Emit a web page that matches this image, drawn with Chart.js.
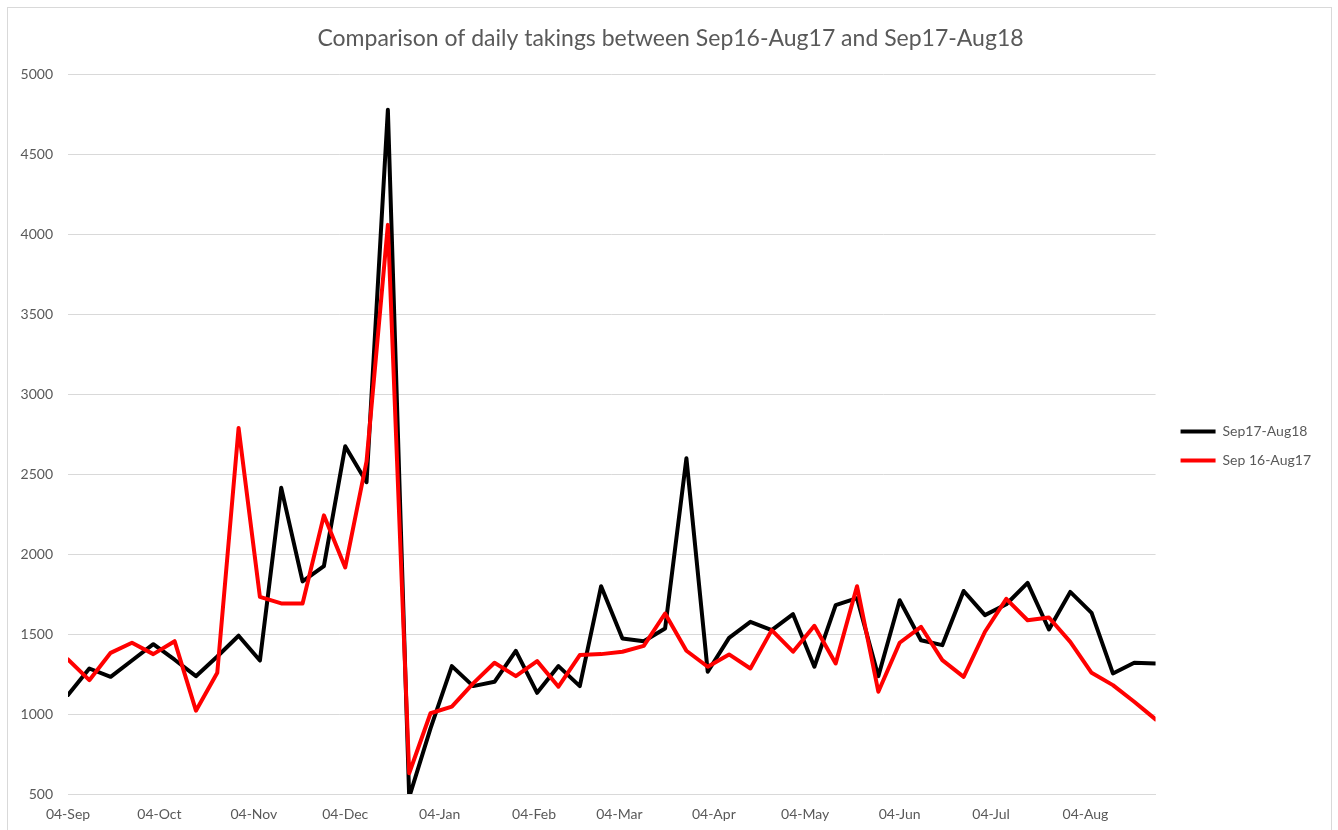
<!DOCTYPE html>
<html>
<head>
<meta charset="utf-8">
<script src="https://cdn.jsdelivr.net/npm/chart.js@4"></script>
<style>
  html, body { margin: 0; padding: 0; background: #ffffff; }
  #frame { position: absolute; left: 7px; top: 7px; width: 1325px; height: 840px; border: 1px solid #d9d9d9; box-sizing: border-box; }
  #wrap { position: absolute; left: 0; top: 0; width: 1338px; height: 830px; }
</style>
</head>
<body>
<div id="frame"></div>
<div id="wrap"><canvas id="c" width="1338" height="830"></canvas></div>
<script>
// Week-starting dates (categories)
const weekDates = [
  '2017-09-04','2017-09-11','2017-09-18','2017-09-25',
  '2017-10-02','2017-10-09','2017-10-16','2017-10-23','2017-10-30',
  '2017-11-06','2017-11-13','2017-11-20','2017-11-27',
  '2017-12-04','2017-12-11','2017-12-18','2017-12-25',
  '2018-01-01','2018-01-08','2018-01-15','2018-01-22','2018-01-29',
  '2018-02-05','2018-02-12','2018-02-19','2018-02-26',
  '2018-03-05','2018-03-12','2018-03-19','2018-03-26',
  '2018-04-02','2018-04-09','2018-04-16','2018-04-23','2018-04-30',
  '2018-05-07','2018-05-14','2018-05-21','2018-05-28',
  '2018-06-04','2018-06-11','2018-06-18','2018-06-25',
  '2018-07-02','2018-07-09','2018-07-16','2018-07-23','2018-07-30',
  '2018-08-06','2018-08-13','2018-08-20','2018-08-27'
];

// Series values
const sep17Aug18 = [1120, 1285, 1233, 1335, 1437, 1340, 1237, 1360, 1490, 1335, 2415, 1830, 1925, 2675, 2450, 4780,
  480, 910, 1300, 1175, 1202, 1395, 1133, 1300, 1175, 1800, 1473, 1456, 1535, 2600, 1265, 1477, 1577, 1525, 1625, 1296,
  1681, 1725, 1237, 1712, 1462, 1431, 1770, 1619, 1687, 1821, 1529, 1764, 1633, 1254, 1321, 1317];
const sep16Aug17 = [1342, 1212, 1383, 1446, 1375, 1456, 1021, 1258, 2790, 1733, 1692, 1692, 2243, 1917, 2580, 4060,
  630, 1005, 1046, 1192, 1321, 1237, 1331, 1171, 1369, 1375, 1390, 1427, 1629, 1396, 1296, 1373, 1285, 1525, 1390, 1552,
  1317, 1800, 1140, 1446, 1546, 1337, 1233, 1515, 1721, 1587, 1604, 1452, 1258, 1181, 1077, 967];

// X tick dates and labels
const tickDates = ['2017-09-04','2017-10-04','2017-11-04','2017-12-04','2018-01-04','2018-02-04',
  '2018-03-04','2018-04-04','2018-05-04','2018-06-04','2018-07-04','2018-08-04'];
const tickLabels = ['04-Sep','04-Oct','04-Nov','04-Dec','04-Jan','04-Feb','04-Mar','04-Apr','04-May','04-Jun','04-Jul','04-Aug'];

// Y ticks
const yMin = 500, yMax = 5000, yStep = 500;

const DAY = 86400000;
const t0 = Date.parse(weekDates[0]);
const toDay = d => (Date.parse(d) - t0) / DAY;
const weekDays = weekDates.map(toDay);
const tickDays = tickDates.map(toDay);

const FONT = "Lato, 'Open Sans', sans-serif";
const GREY = '#595959';

// Nudge the legend and title to sit where the original places them
const blockNudge = {
  id: 'blockNudge',
  afterLayout(chart) {
    const lg = chart.legend;
    if (lg) {
      const dx = 10, dy = 31;
      lg.left += dx; lg.right += dx;
      lg.top += dy; lg.bottom += dy;
    }
    const tb = chart.titleBlock;
    if (tb) {
      const tx = 15;
      tb.left += tx; tb.right += tx;
    }
  }
};

new Chart(document.getElementById('c'), {
  type: 'line',
  plugins: [blockNudge],
  data: {
    datasets: [
      {
        label: 'Sep17-Aug18',
        data: sep17Aug18.map((v, i) => ({ x: weekDays[i], y: v })),
        borderColor: '#000000', backgroundColor: '#000000',
        borderWidth: 4, pointRadius: 0, tension: 0,
        borderJoinStyle: 'round', borderCapStyle: 'round',
        order: 1
      },
      {
        label: 'Sep 16-Aug17',
        data: sep16Aug17.map((v, i) => ({ x: weekDays[i], y: v })),
        borderColor: '#ff0000', backgroundColor: '#ff0000',
        borderWidth: 4, pointRadius: 0, tension: 0,
        borderJoinStyle: 'round', borderCapStyle: 'round',
        order: 0
      }
    ]
  },
  options: {
    responsive: false,
    animation: false,
    layout: { padding: { left: 0, right: 27, top: 0, bottom: 0 } },
    plugins: {
      title: {
        display: true,
        text: 'Comparison of daily takings between Sep16-Aug17 and Sep17-Aug18',
        color: GREY,
        font: { family: FONT, size: 23, weight: 'normal' },
        padding: { top: 25, bottom: 22 }
      },
      legend: {
        display: true,
        position: 'right',
        align: 'center',
        labels: {
          color: GREY,
          font: { family: FONT, size: 14 },
          boxWidth: 35, boxHeight: 4,
          padding: 15,
          sort: (a, b) => a.datasetIndex - b.datasetIndex,
          generateLabels: (chart) => chart.data.datasets.map((ds, i) => ({
            text: ds.label, fillStyle: ds.borderColor, strokeStyle: ds.borderColor,
            lineWidth: 0, hidden: false, datasetIndex: i, fontColor: GREY
          }))
        }
      },
      tooltip: { enabled: false }
    },
    scales: {
      x: {
        type: 'linear',
        min: 0,
        max: weekDays[weekDays.length - 1],
        grid: { display: false, drawTicks: false },
        border: { display: true, color: '#d9d9d9', width: 1 },
        afterBuildTicks: (scale) => { scale.ticks = tickDays.map(v => ({ value: v })); },
        afterFit: (scale) => { scale.height = 36; },
        ticks: {
          autoSkip: false, maxRotation: 0, padding: 12,
          color: GREY, font: { family: FONT, size: 14 },
          callback: (v) => { const k = tickDays.indexOf(v); return k >= 0 ? tickLabels[k] : ''; }
        }
      },
      y: {
        min: yMin, max: yMax,
        grid: { color: '#d9d9d9', lineWidth: 1, drawTicks: false },
        border: { display: false },
        afterFit: (scale) => { scale.width = 68; },
        ticks: {
          stepSize: yStep, padding: 15,
          color: GREY, font: { family: FONT, size: 14 },
          callback: (v) => String(v)
        }
      }
    }
  }
});
</script>
</body>
</html>
